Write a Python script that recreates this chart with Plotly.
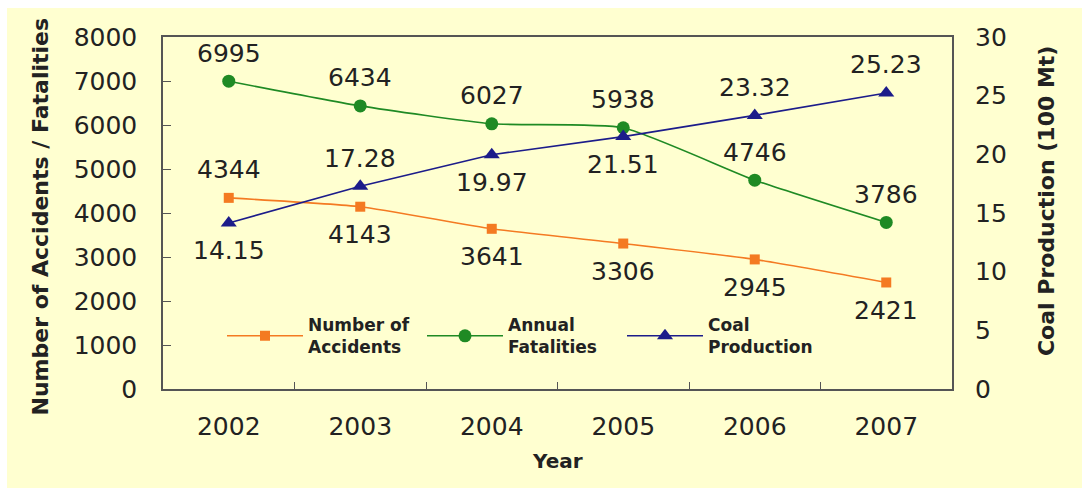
import plotly.graph_objects as go

years = ["2002", "2003", "2004", "2005", "2006", "2007"]
accidents = [4344, 4143, 3641, 3306, 2945, 2421]
fatalities = [6995, 6434, 6027, 5938, 4746, 3786]
coal_production = [14.15, 17.28, 19.97, 21.51, 23.32, 25.23]

# Which side of each marker its value label sits on (+1 above, -1 below)
acc_side = [1, -1, -1, -1, -1, -1]
fat_side = [1, 1, 1, 1, 1, 1]
coal_side = [-1, 1, -1, -1, 1, 1]

NUM_FONT = "DejaVu Sans, Verdana, sans-serif"
TXT = "#222222"
ORANGE = "#F47A22"
GREEN = "#1F8A24"
NAVY = "#1C1C8A"

PLOT_L, PLOT_R, PLOT_T, PLOT_B = 163, 130, 37, 99
PLOT_W = 1082 - PLOT_L - PLOT_R
PLOT_H = 488 - PLOT_T - PLOT_B

fig = go.Figure()

fig.add_trace(go.Scatter(
    x=years, y=accidents, name="<b>Number of<br>Accidents</b>",
    mode="lines+markers",
    line=dict(color=ORANGE, width=1.6, shape="spline", smoothing=0.5),
    marker=dict(symbol="square", size=10, color=ORANGE),
))
fig.add_trace(go.Scatter(
    x=years, y=fatalities, name="<b>Annual<br>Fatalities</b>",
    mode="lines+markers",
    line=dict(color=GREEN, width=1.6, shape="spline", smoothing=0.5),
    marker=dict(symbol="circle", size=13, color=GREEN),
))
fig.add_trace(go.Scatter(
    x=years, y=coal_production, name="<b>Coal<br>Production</b>", yaxis="y2",
    mode="lines+markers",
    line=dict(color=NAVY, width=1.6),
    marker=dict(symbol="triangle-up", size=14, color=NAVY),
))

# Value labels, offset a fixed distance above or below each marker.
# On the category axis each year sits at its index.
label_anns = []
for values, sides, yref, fmt in [
    (accidents, acc_side, "y", "{:d}"),
    (fatalities, fat_side, "y", "{:d}"),
    (coal_production, coal_side, "y2", "{:.2f}"),
]:
    for i, (v, s) in enumerate(zip(values, sides)):
        label_anns.append(dict(
            x=i, y=v, xref="x", yref=yref, text=fmt.format(v), showarrow=False,
            xanchor="center", yanchor="middle", yshift=28 * s,
            font=dict(family=NUM_FONT, size=25, color=TXT),
        ))

title_font = dict(family="DejaVu Sans", size=22, color=TXT)

fig.update_layout(
    width=1082, height=488,
    margin=dict(l=PLOT_L, r=PLOT_R, t=PLOT_T, b=PLOT_B, autoexpand=False),
    paper_bgcolor="white",
    plot_bgcolor="white",
    font=dict(family=NUM_FONT, size=25, color=TXT),
    showlegend=True,
    legend=dict(
        orientation="h", x=(222 - PLOT_L) / PLOT_W, y=0.15, xanchor="left", yanchor="middle",
        bgcolor="rgba(0,0,0,0)", font=dict(family="DejaVu Sans", size=17, color=TXT),
        entrywidth=109, itemwidth=76,
    ),
    xaxis=dict(
        type="category", range=[-0.5, 5.5], showline=True, linecolor="#555555",
        linewidth=1.5, mirror=True, ticks="inside", ticklen=7, tickcolor="#555555",
        tickson="boundaries", showgrid=False, ticklabelstandoff=14, automargin=False,
        tickfont=dict(family=NUM_FONT, size=25, color=TXT),
    ),
    yaxis=dict(
        range=[0, 8000], dtick=1000, showline=True, linecolor="#555555", linewidth=1.5,
        mirror=True, ticks="inside", ticklen=8, tickcolor="#555555", showgrid=False,
        zeroline=False, ticklabelstandoff=19, automargin=False,
        tickfont=dict(family=NUM_FONT, size=25, color=TXT),
    ),
    yaxis2=dict(
        range=[0, 30], dtick=5, overlaying="y", side="right", showgrid=False,
        zeroline=False, showline=False, ticks="", ticklabelstandoff=22, automargin=False,
        tickfont=dict(family=NUM_FONT, size=25, color=TXT),
    ),
    shapes=[dict(
        type="rect", xref="paper", yref="paper", layer="below",
        x0=-(PLOT_L - 7) / PLOT_W, x1=1 + PLOT_R / PLOT_W,
        y0=-PLOT_B / PLOT_H, y1=1 + (PLOT_T - 8) / PLOT_H,
        fillcolor="#FFFFD0", line=dict(width=0),
    )],
    annotations=label_anns + [
        dict(text="<b>Number of Accidents / Fatalities</b>", xref="paper", yref="paper",
             x=0, y=0.49, xshift=-122, xanchor="center", yanchor="middle",
             textangle=-90, showarrow=False, font=title_font),
        dict(text="<b>Coal Production (100 Mt)</b>", xref="paper", yref="paper",
             x=1, y=0.534, xshift=94, xanchor="center", yanchor="middle",
             textangle=-90, showarrow=False, font=title_font),
        dict(text="<b>Year</b>", xref="paper", yref="paper",
             x=0.5, y=0, yshift=-72, xanchor="center", yanchor="middle", showarrow=False,
             font=dict(family="DejaVu Sans", size=20, color=TXT)),
    ],
)

fig.write_html("out.html")
